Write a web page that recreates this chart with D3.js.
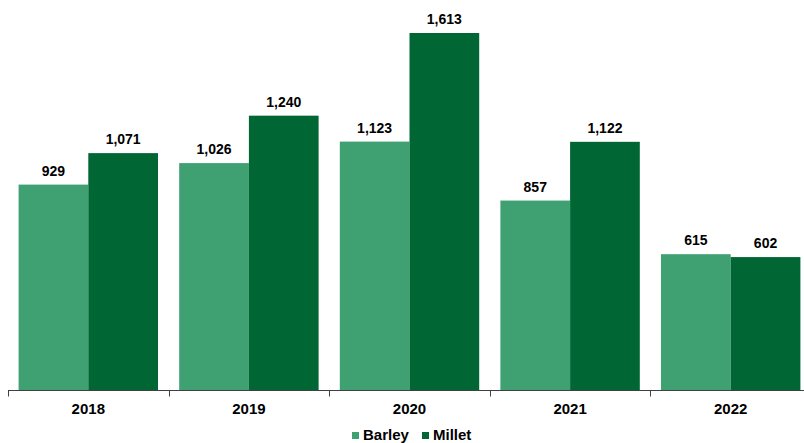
<!DOCTYPE html>
<html><head><meta charset="utf-8">
<script src="https://cdn.jsdelivr.net/npm/d3@7/dist/d3.min.js"></script>
<style>body{margin:0;background:#fff}svg{display:block}</style>
</head><body>
<svg id="c" width="804" height="443"></svg>
<script>
const years = ["2018","2019","2020","2021","2022"];
const seriesNames = ["Barley","Millet"];
const barley = [929,1026,1123,857,615];
const millet = [1071,1240,1613,1122,602];
const colors = ["#3fa072","#006633"];

const svg = d3.select("#c");
const font = "'Liberation Sans', Arial, sans-serif";
const x0 = d3.scaleBand().domain(years).range([8, 8 + 5*160.6]).padding(0);
const x1 = d3.scaleBand().domain(seriesNames).range([0, x0.bandwidth()]).paddingInner(0).paddingOuter(0.152);
const y = d3.scaleLinear().domain([0, 1613]).range([390.5, 33]);

const data = years.map((yr,i)=>({year:yr, vals:[{s:"Barley",v:barley[i]},{s:"Millet",v:millet[i]}]}));

const g = svg.selectAll("g.grp").data(data).join("g").attr("class","grp")
  .attr("transform", d=>`translate(${x0(d.year)},0)`);
g.selectAll("rect").data(d=>d.vals).join("rect")
  .attr("x", d=>x1(d.s)).attr("width", x1.bandwidth())
  .attr("y", d=>y(d.v)).attr("height", d=>y(0)-y(d.v))
  .attr("fill", (d,i)=>colors[i]);
g.selectAll("text").data(d=>d.vals).join("text")
  .attr("x", d=>x1(d.s)+x1.bandwidth()/2).attr("y", d=>y(d.v)-9)
  .attr("text-anchor","middle").attr("font-family",font).attr("font-weight","bold")
  .attr("font-size","14px").attr("fill","#000")
  .text(d=>d3.format(",")(d.v));

// axis
const ax = svg.append("g").attr("transform","translate(0,390.5)");
ax.append("line").attr("x1",8).attr("x2",804).attr("stroke","#404040").attr("stroke-width",1);
const bounds = years.map(yr=>x0(yr)).concat([x0(years[4])+x0.bandwidth()]);
ax.selectAll("line.t").data(bounds).join("line").attr("class","t")
  .attr("x1",d=>Math.round(d)+0.5).attr("x2",d=>Math.round(d)+0.5).attr("y1",0).attr("y2",6)
  .attr("stroke","#404040");
ax.selectAll("text").data(years).join("text")
  .attr("x", d=>x0(d)+x0.bandwidth()/2).attr("y", 23.5)
  .attr("text-anchor","middle").attr("font-family",font).attr("font-weight","bold")
  .attr("font-size","15px").attr("fill","#000").text(d=>d);

// legend
const lg = svg.append("g");
const items = [{s:"Barley",x:352},{s:"Millet",x:422}];
items.forEach((it,i)=>{
  lg.append("rect").attr("x",it.x).attr("y",432).attr("width",7).attr("height",7).attr("fill",colors[i]);
  lg.append("text").attr("x",it.x+11).attr("y",439.5).attr("font-family",font).attr("font-weight","bold")
    .attr("font-size","15px").attr("fill","#000").text(it.s);
});
</script>
</body></html>
